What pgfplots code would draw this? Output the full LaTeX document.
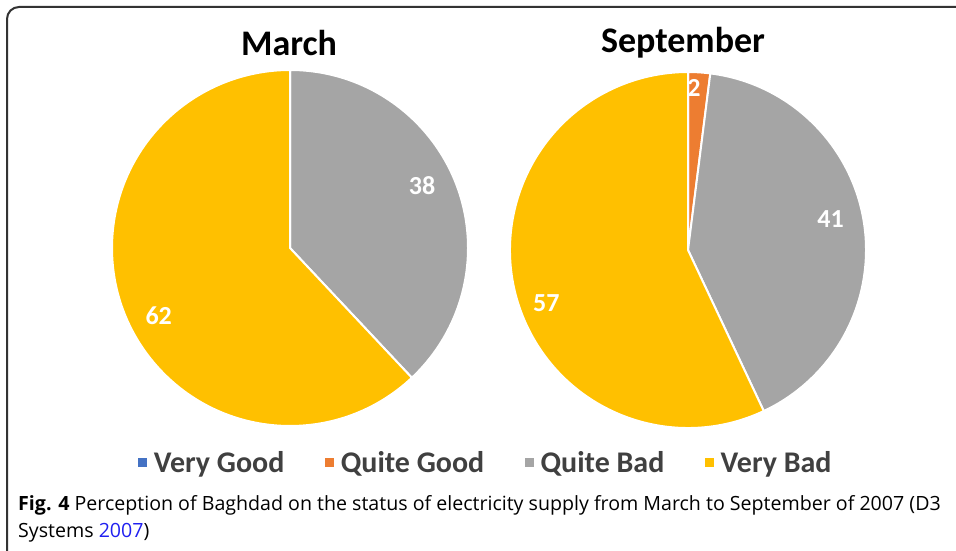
\documentclass[border=0pt]{standalone}
\usepackage{pgfplots}
\pgfplotsset{compat=1.18}
\usepackage{pgfplotstable}
\usepackage{fontspec}
\setmainfont{Carlito}
\newfontfamily\capfont{Open Sans}
\definecolor{vgood}{HTML}{4472C4}
\definecolor{qgood}{HTML}{ED7D31}
\definecolor{qbad}{HTML}{A5A5A5}
\definecolor{vbad}{HTML}{FFC000}
\definecolor{legtxt}{HTML}{404040}
\definecolor{linkblue}{HTML}{2020F0}

% value = percent, lab = label radius (fraction of pie radius), off = label angle offset
\pgfplotstableread{
cat value col lab off
VeryGood 0 vgood 0.83 0
QuiteGood 0 qgood 0.83 0
QuiteBad 38 qbad 0.82 3.6
VeryBad 62 vbad 0.83 5.7
}\march
\pgfplotstableread{
cat value col lab off
VeryGood 0 vgood 0.83 0
QuiteGood 2 qgood 0.91 1.5
QuiteBad 41 qbad 0.82 3.2
VeryBad 57 vbad 0.85 7.9
}\september

% #1 table, #2 centre x, #3 centre y, #4 radius
\newcommand\drawpie[4]{%
  \def\curang{90}%
  \pgfplotsforeachungrouped \i in {0,...,3}{%
    \pgfplotstablegetelem{\i}{value}\of{#1}\let\val\pgfplotsretval
    \pgfplotstablegetelem{\i}{col}\of{#1}\let\col\pgfplotsretval
    \pgfplotstablegetelem{\i}{lab}\of{#1}\let\labf\pgfplotsretval
    \pgfplotstablegetelem{\i}{off}\of{#1}\let\laboff\pgfplotsretval
    \ifdim\val pt>0pt
      \pgfmathsetmacro\endang{\curang-3.6*\val}%
      \pgfmathsetmacro\midang{(\curang+\endang)/2+\laboff}%
      \pgfmathsetmacro\lx{#2+\labf*#4*cos(\midang)}%
      \pgfmathsetmacro\ly{#3+\labf*#4*sin(\midang)}%
      \edef\cmd{\noexpand\filldraw[fill=\col, draw=white, line width=2pt, line join=round]
        (axis cs:#2,#3) -- ++(\curang:#4pt) arc[start angle=\curang, end angle=\endang, radius=#4pt] -- cycle;
        \noexpand\node[text=white, font=\noexpand\bfseries\noexpand\fontsize{26}{30}\noexpand\selectfont] at (axis cs:\lx,\ly) {\val};}%
      \cmd
      \let\curang\endang
    \fi
  }%
}

\begin{document}
\begin{tikzpicture}
\useasboundingbox (0,0) rectangle (956pt,551pt);
% frame
\draw[line width=2pt, draw=black!80, rounded corners=12pt] (7pt,-4pt) -- (7pt,544pt) -- (970pt,544pt);
\begin{axis}[
  at={(0,0)}, anchor=south west,
  width=956pt, height=551pt, scale only axis,
  xmin=0, xmax=956, ymin=0, ymax=551,
  hide axis, clip=false,
  legend style={at={(axis cs:486,88)}, anchor=center, draw=none, fill=none,
    font=\bfseries\fontsize{30}{34}\selectfont, text=legtxt,
    /tikz/every odd column/.append style={column sep=5pt},
    /tikz/every even column/.append style={column sep=39pt}},
  legend columns=4,
  legend image code/.code={\fill[#1] (0pt,-3pt) rectangle (8pt,5pt);},
]
\drawpie{\march}{290}{303}{178}
\drawpie{\september}{688}{301}{178}
\node[font=\bfseries\fontsize{36}{40}\selectfont] at (axis cs:289,508) {March};
\node[font=\bfseries\fontsize{36}{40}\selectfont] at (axis cs:683,508) {September};
\addlegendimage{vgood, fill=vgood}
\addlegendentry{Very Good}
\addlegendimage{qgood, fill=qgood}
\addlegendentry{Quite Good}
\addlegendimage{qbad, fill=qbad}
\addlegendentry{Quite Bad}
\addlegendimage{vbad, fill=vbad}
\addlegendentry{Very Bad}
\end{axis}
\node[anchor=base west, inner sep=0pt, font=\capfont\fontsize{19.6}{23}\selectfont] at (18pt,40pt)
  {\textbf{Fig. 4} Perception of Baghdad on the status of electricity supply from March to September of 2007 (D3};
\node[anchor=base west, inner sep=0pt, font=\capfont\fontsize{19.6}{23}\selectfont] at (18pt,13pt)
  {Systems \textcolor{linkblue}{2007})};
\end{tikzpicture}
\end{document}
